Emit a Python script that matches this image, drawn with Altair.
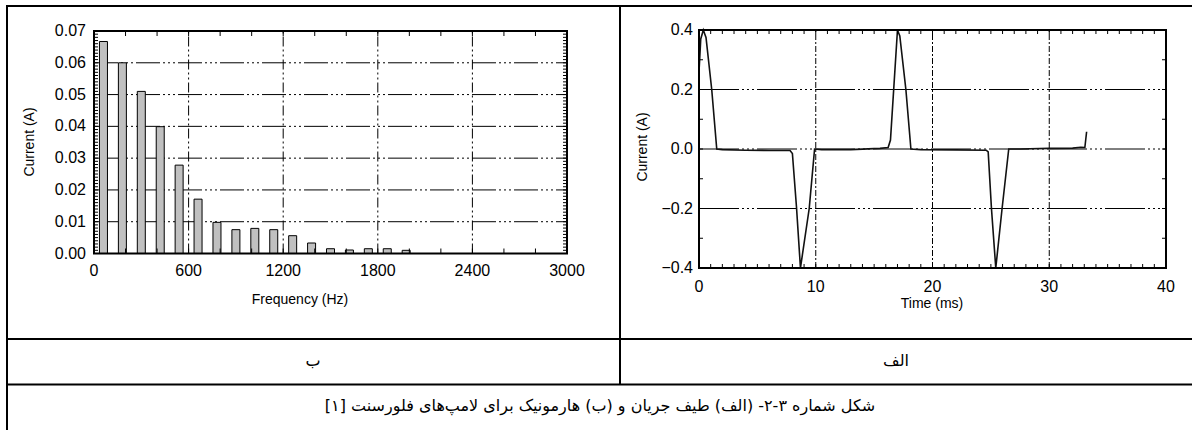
import altair as alt
import pandas as pd

W, H = 1192, 430

# ---- Harmonic spectrum of the lamp current (odd harmonics of 60 Hz) ----
freq_hz = [60, 180, 300, 420, 540, 660, 780, 900, 1020, 1140, 1260, 1380, 1500, 1620, 1740, 1860, 1980]
harmonic_a = [0.0667, 0.0600, 0.0510, 0.0399, 0.0278, 0.0171, 0.0098, 0.0075, 0.0079, 0.0075,
              0.0056, 0.0033, 0.0015, 0.0011, 0.0015, 0.0015, 0.0010]

# ---- Lamp current waveform ----
time_ms = [0.0, 0.15, 0.37, 0.6, 1.09, 1.52, 2.0, 4.0, 6.0, 7.8, 8.0, 8.35, 8.69, 9.44, 9.9,
           10.5, 13.0, 15.5, 16.2, 16.4, 17.0, 17.2, 17.72, 18.15, 19.0, 22.0, 24.6, 24.77,
           25.05, 25.42, 25.96, 26.53, 27.5, 30.0, 32.0, 32.7, 33.05, 33.2]
current_a = [0.26, 0.37, 0.40, 0.375, 0.20, 0.0, -0.002, -0.004, -0.005, -0.005, -0.015, -0.195,
             -0.40, -0.20, 0.0, -0.002, -0.002, 0.002, 0.005, 0.03, 0.40, 0.38, 0.20, 0.0,
             -0.002, -0.003, -0.004, -0.01, -0.20, -0.40, -0.20, 0.0, 0.0, 0.002, 0.003,
             0.006, 0.005, 0.058]

# ---- Axis ticks, tick labels and grid positions ----
freq_ticks = [0, 600, 1200, 1800, 2400, 3000]
freq_text = ["0", "600", "1200", "1800", "2400", "3000"]
freq_grid = [600, 1200, 1800, 2400]
freq_minor = list(range(0, 3001, 200))
amp_ticks = [0.0, 0.01, 0.02, 0.03, 0.04, 0.05, 0.06, 0.07]
amp_text = ["0.00", "0.01", "0.02", "0.03", "0.04", "0.05", "0.06", "0.07"]
amp_grid = [0.01, 0.02, 0.03, 0.04, 0.05, 0.06]
amp_minor = [round(i * 0.001, 3) for i in range(71)]

time_ticks = [0, 10, 20, 30, 40]
time_text = ["0", "10", "20", "30", "40"]
time_grid = [10, 20, 30]
time_minor = list(range(0, 41))
wave_ticks = [-0.4, -0.2, 0.0, 0.2, 0.4]
wave_text = ["\u22120.4", "\u22120.2", "0.0", "0.2", "0.4"]
wave_grid = [-0.2, 0.0, 0.2]
wave_minor = [-0.4, -0.3, -0.2, -0.1, 0.0, 0.1, 0.2, 0.3, 0.4]

# ---- Titles and table text ----
freq_title = "Frequency (Hz)"
time_title = "Time (ms)"
current_title = "Current (A)"
label_b = "ب"
label_alef = "الف"
caption = "شکل شماره ۳-۲- (الف) طیف جریان و (ب) هارمونیک برای لامپ\u200cهای فلورسنت [۱]"

FONT = "Liberation Sans"
FA_FONT = "DejaVu Sans"
TICK_FS = 16
TITLE_FS = 14


def panel(main, xdom, ydom, xrng, yrng, grid_x, grid_y, minor_x, minor_y,
          xlen, ylen, dash_h, dash_v, xlab, xtxt, ylab, ytxt, xpad, ypad):
    """Frame, grid lines, inward ticks, tick labels and the main mark for one plot."""
    xs = alt.Scale(domain=xdom, range=xrng, nice=False, zero=False)
    ys = alt.Scale(domain=ydom, range=yrng, nice=False, zero=False)
    x0, x1 = xdom
    y0, y1 = ydom
    one = pd.DataFrame({"k": [0]})

    def X(f):
        return alt.X(f, scale=xs, axis=None)

    def Y(f):
        return alt.Y(f, scale=ys, axis=None)

    def XD(v):
        return alt.XDatum(v, scale=xs, axis=None)

    def YD(v):
        return alt.YDatum(v, scale=ys, axis=None)

    gh = alt.Chart(pd.DataFrame({"v": grid_y})).mark_rule(
        color="black", strokeWidth=1, strokeDash=dash_h).encode(
        y=Y("v:Q"), x=XD(x0), x2=alt.datum(x1))
    gv = alt.Chart(pd.DataFrame({"v": grid_x})).mark_rule(
        color="black", strokeWidth=1, strokeDash=dash_v).encode(
        x=X("v:Q"), y=YD(y0), y2=alt.datum(y1))

    mx = pd.DataFrame({"v": minor_x})
    my = pd.DataFrame({"v": minor_y})
    t_bottom = alt.Chart(mx).mark_rule(color="black", strokeWidth=1, y2Offset=-xlen).encode(
        x=X("v:Q"), y=YD(y0), y2=alt.datum(y0))
    t_top = alt.Chart(mx).mark_rule(color="black", strokeWidth=1, y2Offset=xlen).encode(
        x=X("v:Q"), y=YD(y1), y2=alt.datum(y1))
    t_left = alt.Chart(my).mark_rule(color="black", strokeWidth=1, x2Offset=ylen).encode(
        y=Y("v:Q"), x=XD(x0), x2=alt.datum(x0))
    t_right = alt.Chart(my).mark_rule(color="black", strokeWidth=1, x2Offset=-ylen).encode(
        y=Y("v:Q"), x=XD(x1), x2=alt.datum(x1))

    frame = alt.Chart(one).mark_rect(fillOpacity=0, stroke="black", strokeWidth=2).encode(
        x=XD(x0), x2=alt.datum(x1), y=YD(y0), y2=alt.datum(y1))

    xl = alt.Chart(pd.DataFrame({"v": xlab, "s": xtxt})).mark_text(
        font=FONT, fontSize=TICK_FS, color="black", align="center", baseline="top", dy=xpad).encode(
        x=X("v:Q"), y=YD(y0), text="s:N")
    yl = alt.Chart(pd.DataFrame({"v": ylab, "s": ytxt})).mark_text(
        font=FONT, fontSize=TICK_FS, color="black", align="right", baseline="middle", dx=-ypad).encode(
        y=Y("v:Q"), x=XD(x0), text="s:N")

    body = main(X, Y)
    return alt.layer(gh, gv, body, t_bottom, t_top, t_left, t_right, frame, xl, yl)


# ---- Left plot: harmonic spectrum ----
LX = [89, 572]
LY = [253.5, 31]
spec_df = pd.DataFrame({"freq": freq_hz, "amp": harmonic_a})


def spectrum_bars(X, Y):
    return alt.Chart(spec_df).mark_bar(size=8, color="#c0c0c0", stroke="black", strokeWidth=1).encode(
        x=X("freq:Q"), y=Y("amp:Q"))


left = panel(
    spectrum_bars, [0, 3000], [0, 0.07], LX, LY,
    freq_grid, amp_grid, freq_minor, amp_minor, 5, 4,
    [24, 3, 2, 3, 2, 3, 2, 3], [10, 3, 2, 3, 2, 3],
    freq_ticks, freq_text, amp_ticks, amp_text, 9, 8,
)

# ---- Right plot: current waveform ----
RX = [699, 1166]
RY = [268, 30]
wave_df = pd.DataFrame({"t": time_ms, "i": current_a})


def waveform_line(X, Y):
    return alt.Chart(wave_df).mark_line(color="#111111", strokeWidth=1.6).encode(
        x=X("t:Q"), y=Y("i:Q"), order="t:Q")


right = panel(
    waveform_line, [0, 40], [-0.4, 0.4], RX, RY,
    time_grid, wave_grid, time_minor, wave_minor, 4, 4,
    [40, 3, 2, 3, 2, 3, 2, 3], [6, 2, 2, 2],
    time_ticks, time_text, wave_ticks, wave_text, 11, 6,
)

# ---- Axis titles ----
titles_df = pd.DataFrame({"s": [freq_title, time_title, current_title]})


def title_mark(text, x, y, angle=0):
    return alt.Chart(titles_df).transform_filter(alt.datum.s == text).mark_text(
        font=FONT, fontSize=TITLE_FS, color="black", angle=angle,
        align="center", baseline="middle").encode(
        text="s:N", x=alt.value(x), y=alt.value(y))


titles = [
    title_mark(freq_title, 300, 300),
    title_mark(time_title, 932, 304),
    title_mark(current_title, 30, 142, 270),
    title_mark(current_title, 643, 147, 270),
]

# ---- Table borders ----
one = pd.DataFrame({"k": [0]})
line = dict(color="black", strokeWidth=2)
borders = [
    alt.Chart(one).mark_rule(**line).encode(x=alt.value(7), x2=alt.value(W), y=alt.value(6)),
    alt.Chart(one).mark_rule(**line).encode(x=alt.value(7), x2=alt.value(W), y=alt.value(339)),
    alt.Chart(one).mark_rule(**line).encode(x=alt.value(7), x2=alt.value(W), y=alt.value(384.5)),
    alt.Chart(one).mark_rule(**line).encode(x=alt.value(7), y=alt.value(5), y2=alt.value(H)),
    alt.Chart(one).mark_rule(**line).encode(x=alt.value(620), y=alt.value(6), y2=alt.value(385)),
]

texts_df = pd.DataFrame({"s": [label_b, label_alef, caption]})


def fa_text(text, x, y):
    return alt.Chart(texts_df).transform_filter(alt.datum.s == text).mark_text(
        font=FA_FONT, fontSize=16, color="black", dir="rtl", align="center", baseline="middle").encode(
        text="s:N", x=alt.value(x), y=alt.value(y))


cell_text = [
    fa_text(label_b, 313, 361),
    fa_text(label_alef, 896, 361),
    fa_text(caption, 600, 406),
]

chart = alt.layer(*borders, *cell_text, *titles, left, right).resolve_scale(
    x="independent", y="independent"
).properties(
    width=W, height=H, autosize="none", padding=0, background="white"
).configure_view(stroke=None)

chart.save("out.html", embed_options={"renderer": "svg", "actions": False})
